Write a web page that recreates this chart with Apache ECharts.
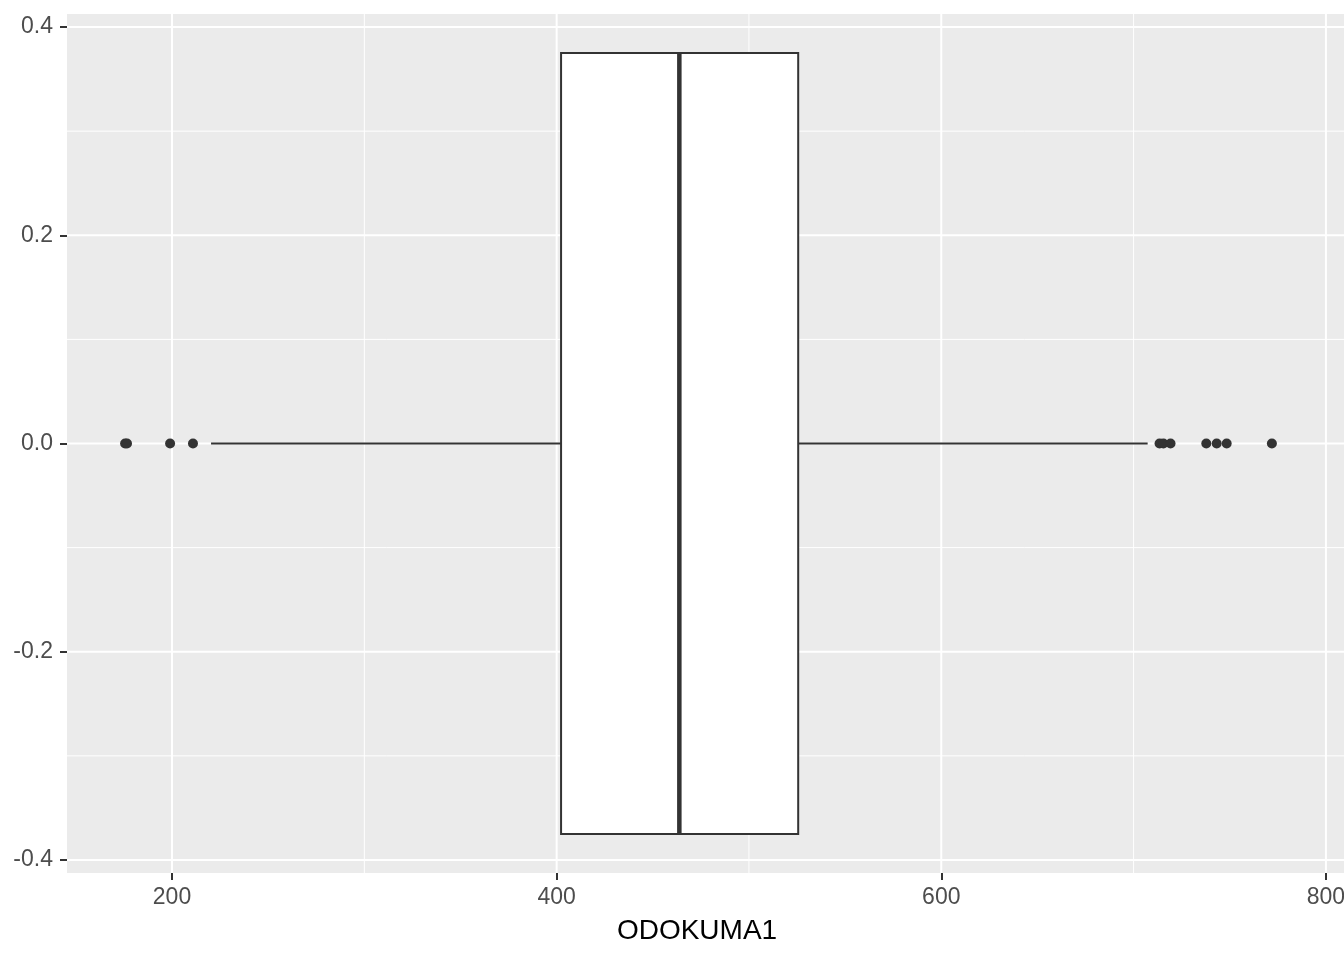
<!DOCTYPE html>
<html>
<head>
<meta charset="utf-8">
<script src="https://cdn.jsdelivr.net/npm/echarts@6/dist/echarts.min.js"></script>
<style>
html,body{margin:0;padding:0;background:#fff;}
#chart{width:1344px;height:960px;}
</style>
</head>
<body>
<div id="chart"></div>
<script>
// ---- data ----
var variableName = 'ODOKUMA1';
// five-number summary: lower whisker, Q1, median, Q3, upper whisker
var boxStats = [220.3, 402.3, 463.8, 525.6, 707.3];
var outliers = [175.6, 176.6, 199.0, 210.9, 713.5, 715.5, 719.2, 737.8, 743.2, 748.4, 771.9];
var xMajorTicks = [200, 400, 600, 800];
var xMinorTicks = [300, 500, 700];
var yMajorTicks = [-0.4, -0.2, 0, 0.2, 0.4];
var yMinorTicks = [-0.3, -0.1, 0.1, 0.3];

// ---- layout constants ----
var X_MIN = 145.4, X_MAX = 809.4;
var Y_MIN = -0.4125, Y_MAX = 0.4125;
var BOX_HALF = 0.375;

var gridLines = [];
xMajorTicks.forEach(function (v) { gridLines.push({ v: v, dir: 'x', w: 2 }); });
xMinorTicks.forEach(function (v) { gridLines.push({ v: v, dir: 'x', w: 1 }); });
yMajorTicks.forEach(function (v) { gridLines.push({ v: v, dir: 'y', w: 2 }); });
yMinorTicks.forEach(function (v) { gridLines.push({ v: v, dir: 'y', w: 1 }); });

var chart = echarts.init(document.getElementById('chart'), null, { renderer: 'canvas' });
var FONT = '"Liberation Sans", Arial, sans-serif';

chart.setOption({
  animation: false,
  backgroundColor: '#ffffff',
  grid: {
    left: 67, right: 0, top: 14, bottom: 87,
    containLabel: false,
    outerBoundsMode: 'none',
    show: true, backgroundColor: '#EBEBEB', borderWidth: 0
  },
  title: {
    text: variableName,
    left: 692,
    top: 912,
    textAlign: 'center',
    textStyle: { fontFamily: FONT, fontSize: 28, fontWeight: 'normal', color: '#000000' }
  },
  xAxis: {
    type: 'value',
    min: X_MIN, max: X_MAX,
    axisLine: { show: false, onZero: false },
    axisTick: { show: true, length: 7, lineStyle: { color: '#333333', width: 2 }, customValues: xMajorTicks },
    axisLabel: { customValues: xMajorTicks, color: '#4D4D4D', fontSize: 23, fontFamily: FONT, margin: 13,
      formatter: function (v) { return String(v); } },
    splitLine: { show: false }
  },
  yAxis: {
    type: 'value',
    min: Y_MIN, max: Y_MAX,
    axisLine: { show: false, onZero: false },
    axisTick: { show: true, length: 7, lineStyle: { color: '#333333', width: 2 }, customValues: yMajorTicks },
    axisLabel: { customValues: yMajorTicks, color: '#4D4D4D', fontSize: 23, fontFamily: FONT, margin: 14,
      formatter: function (v) { return (Math.abs(v) < 1e-9 ? 0 : v).toFixed(1); } },
    splitLine: { show: false }
  },
  series: [
    {
      type: 'custom',
      silent: true,
      z: 1,
      data: gridLines.map(function (g, i) { return [i, 0]; }),
      renderItem: function (params, api) {
        var item = gridLines[params.dataIndex];
        var v = item.v;
        var p1, p2;
        if (item.dir === 'x') {
          p1 = api.coord([v, Y_MIN]); p2 = api.coord([v, Y_MAX]);
        } else {
          p1 = api.coord([X_MIN, v]); p2 = api.coord([X_MAX, v]);
        }
        return {
          type: 'line',
          shape: { x1: p1[0], y1: p1[1], x2: p2[0], y2: p2[1] },
          style: { stroke: '#FFFFFF', lineWidth: item.w }
        };
      }
    },
    {
      type: 'custom',
      silent: true,
      z: 3,
      data: [[boxStats[2], 0]],
      renderItem: function (params, api) {
        var lo = boxStats[0], q1 = boxStats[1], med = boxStats[2], q3 = boxStats[3], hi = boxStats[4];
        var pLo = api.coord([lo, 0]), pQ1 = api.coord([q1, 0]), pQ3 = api.coord([q3, 0]), pHi = api.coord([hi, 0]);
        var top = api.coord([q1, BOX_HALF])[1], bot = api.coord([q1, -BOX_HALF])[1];
        var pMed = api.coord([med, 0]);
        var stroke = '#333333';
        return {
          type: 'group',
          children: [
            { type: 'line', shape: { x1: pLo[0], y1: pLo[1], x2: pQ1[0], y2: pQ1[1] }, style: { stroke: stroke, lineWidth: 2 } },
            { type: 'line', shape: { x1: pQ3[0], y1: pQ3[1], x2: pHi[0], y2: pHi[1] }, style: { stroke: stroke, lineWidth: 2 } },
            { type: 'rect', shape: { x: pQ1[0], y: top, width: pQ3[0] - pQ1[0], height: bot - top },
              style: { fill: '#FFFFFF', stroke: stroke, lineWidth: 2 } },
            { type: 'line', shape: { x1: pMed[0], y1: top, x2: pMed[0], y2: bot }, style: { stroke: stroke, lineWidth: 4.5 } }
          ]
        };
      }
    },
    {
      type: 'scatter',
      silent: true,
      z: 4,
      symbol: 'circle',
      symbolSize: 10,
      itemStyle: { color: '#333333', opacity: 1 },
      data: outliers.map(function (v) { return [v, 0]; })
    }
  ]
});
</script>
</body>
</html>
